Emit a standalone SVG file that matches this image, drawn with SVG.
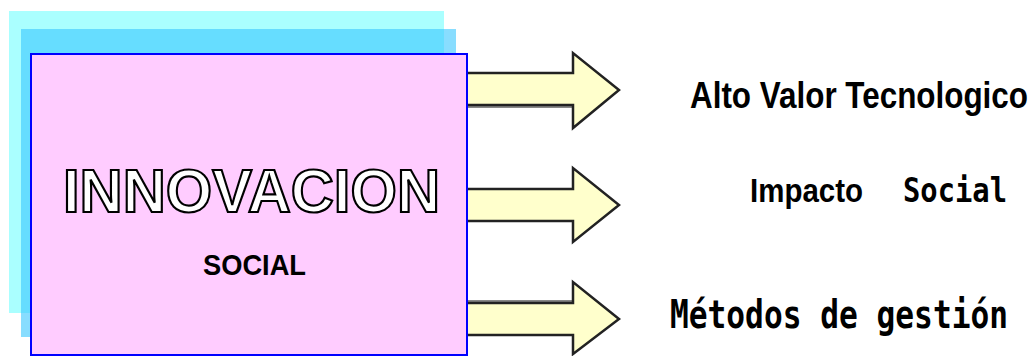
<svg xmlns="http://www.w3.org/2000/svg" width="1036" height="356" viewBox="0 0 1036 356">
<style>
.arrow{fill:#FFFFCC;stroke:#222;stroke-width:2.5;stroke-linejoin:miter}
.shadow{fill:#888}
.lbl{font-family:"Liberation Sans",Arial,sans-serif;font-weight:bold;fill:#000}
.pix{font-family:"DejaVu Sans Mono","Liberation Mono",monospace;font-weight:bold;fill:#000}
</style>
<rect width="1036" height="356" fill="#FFFFFF"/>
<g id="connectors">
  <rect class="shadow" x="466" y="104" width="107" height="4"/>
  <path class="arrow" d="M466,73 H573 V53 L619,90 L573,128 V105 H466 Z"/>
  <path class="arrow" d="M466,189 H573 V168 L619,205 L573,242 V221 H466 Z"/>
  <rect class="shadow" x="466" y="300" width="107" height="4"/>
  <path class="arrow" d="M466,303 H573 V282 L619,319 L573,354 V335 H466 Z"/>
</g>
<g id="node-innovacion">
  <rect x="9" y="11" width="435" height="302" fill="#AAFFFF"/>
  <rect x="21" y="29" width="435" height="308" fill="#39C6FF" fill-opacity="0.6"/>
  <rect x="31" y="54" width="436" height="301" fill="#FFCCFF" stroke="#0000FF" stroke-width="2"/>
  <text x="63" y="212" font-family="'Liberation Sans',Arial,sans-serif" font-weight="bold" font-size="61" fill="#FFFFFF" stroke="#000" stroke-width="2.2" textLength="377" lengthAdjust="spacingAndGlyphs">INNOVACION</text>
  <text class="lbl" x="203" y="275" font-size="30" textLength="103" lengthAdjust="spacingAndGlyphs">SOCIAL</text>
</g>
<g id="node-alto">
  <text class="lbl" transform="translate(690,108) scale(1,1.17)" x="0" y="0" font-size="31" textLength="338" lengthAdjust="spacingAndGlyphs">Alto Valor Tecnologico</text>
</g>
<g id="node-impacto">
  <text class="lbl" x="750" y="202" font-size="33" textLength="113" lengthAdjust="spacingAndGlyphs">Impacto</text>
  <text class="pix" x="903" y="202" font-size="34" textLength="104" lengthAdjust="spacingAndGlyphs">Social</text>
</g>
<g id="node-metodos">
  <text class="pix" transform="translate(670,328) scale(1,1.24)" x="0" y="0" font-size="31" textLength="338" lengthAdjust="spacingAndGlyphs">Métodos de gestión</text>
</g>
</svg>
